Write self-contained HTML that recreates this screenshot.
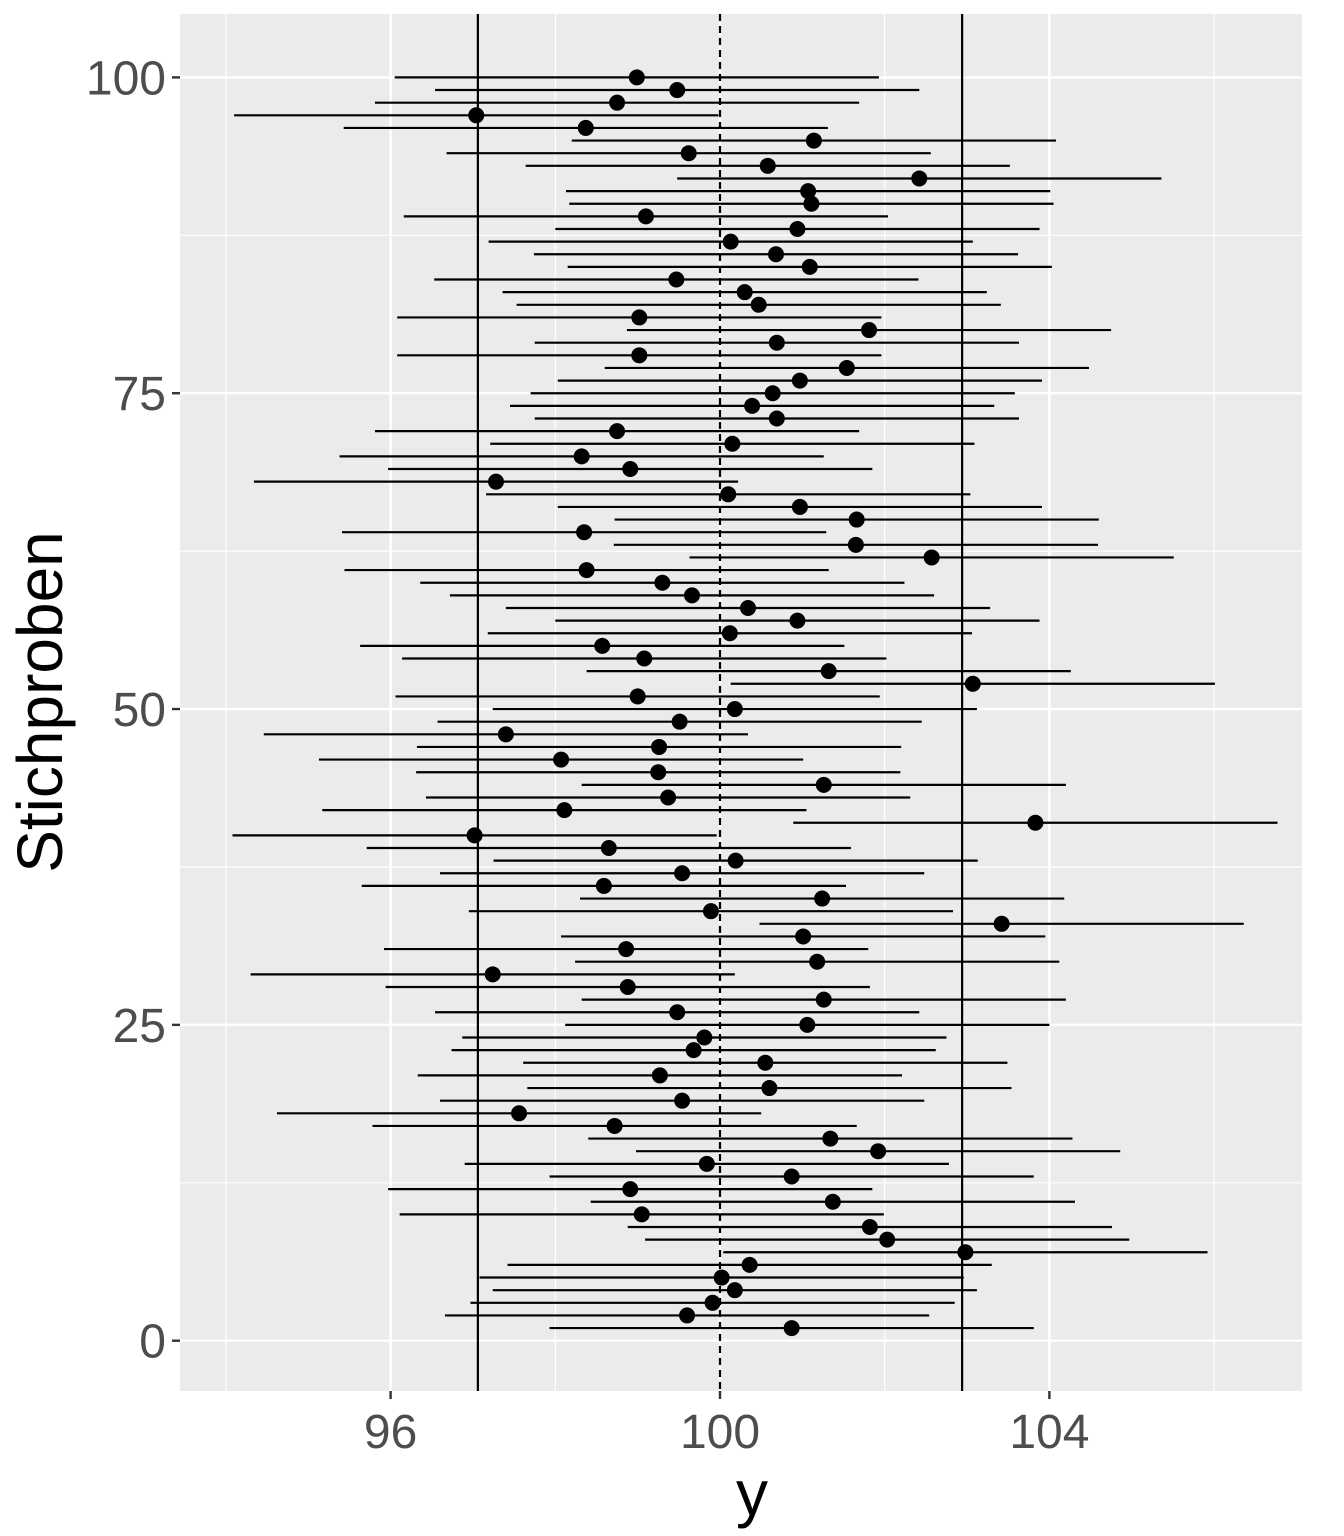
<!DOCTYPE html>
<html><head><meta charset="utf-8"><style>
html,body{margin:0;padding:0;background:#fff;}
svg{display:block;font-family:"Liberation Sans",Arial,sans-serif;}
</style></head><body>
<svg id="chart" width="1344" height="1536">
<rect x="180" y="14" width="1122" height="1377" fill="#EBEBEB"/>
<g id="grid"></g>
<g id="refs"></g>
<g id="marks"></g>
<g id="axes"></g>
<text x="752" y="1515" font-size="64" text-anchor="middle" fill="#000">y</text>
<text transform="translate(62,702) rotate(-90)" font-size="64" text-anchor="middle" fill="#000">Stichproben</text>
</svg>
<script>
const sampleMeans = [100.87,99.60,99.91,100.18,100.02,100.36,102.98,102.03,101.82,99.05,
101.37,98.91,100.87,99.84,101.92,101.34,98.72,97.56,99.54,100.60,
99.27,100.55,99.68,99.81,101.06,99.48,101.26,98.88,97.24,101.18,
98.86,101.01,103.42,99.89,101.24,98.59,99.54,100.19,98.65,97.02,
103.83,98.11,99.37,101.26,99.25,98.07,99.26,97.40,99.51,100.18,
99.00,103.07,101.32,99.08,98.57,100.12,100.94,100.34,99.66,99.30,
98.38,102.57,101.65,98.35,101.66,100.97,100.10,97.28,98.91,98.32,
100.15,98.75,100.69,100.39,100.64,100.97,101.54,99.02,100.69,101.81,
99.02,100.47,100.30,99.47,101.09,100.68,100.13,100.94,99.10,101.11,
101.07,102.42,100.58,99.62,101.14,98.37,97.04,98.75,99.48,98.99];
const halfWidth = 2.94;
const trueMean = 100;
const xTicks = [96,100,104];
const xMinor = [94,98,102,106];
const yTicks = [0,25,50,75,100];
const yMinor = [12.5,37.5,62.5,87.5];

const NS="http://www.w3.org/2000/svg";
const L=180,R=1302,T=14,B=1391;
function sx(v){return 720+(v-100)*82.35;}
function sy(v){return 1340.7-v*12.633;}
function mk(parent,tag,attrs){const e=document.createElementNS(NS,tag);for(const k in attrs)e.setAttribute(k,attrs[k]);document.getElementById(parent).appendChild(e);return e;}

xMinor.forEach(v=>{const e=mk('grid','line',{x1:sx(v),x2:sx(v),y1:T,y2:B,stroke:'#fff','stroke-width':1.2});

});
yMinor.forEach(v=>{const e=mk('grid','line',{x1:L,x2:R,y1:sy(v),y2:sy(v),stroke:'#fff','stroke-width':1.2});

});
xTicks.forEach(v=>{const e=mk('grid','line',{x1:sx(v),x2:sx(v),y1:T,y2:B,stroke:'#fff','stroke-width':2.4});


const t=mk('axes','line',{x1:sx(v),x2:sx(v),y1:B,y2:B+8,stroke:'#333','stroke-width':2.4});


const l=mk('axes','text',{x:sx(v),y:1448,'font-size':48,'text-anchor':'middle',fill:'#4D4D4D'});l.textContent=v;

});
yTicks.forEach(v=>{const e=mk('grid','line',{x1:L,x2:R,y1:sy(v),y2:sy(v),stroke:'#fff','stroke-width':2.4});


const t=mk('axes','line',{x1:L-8,x2:L,y1:sy(v),y2:sy(v),stroke:'#333','stroke-width':2.4});


const l=mk('axes','text',{x:166,y:sy(v)+17,'font-size':48,'text-anchor':'end',fill:'#4D4D4D'});l.textContent=v;

});

[trueMean-halfWidth,trueMean+halfWidth].forEach(v=>{const e=mk('refs','line',{x1:sx(v),x2:sx(v),y1:T,y2:B,stroke:'#000','stroke-width':2.2});

});
const d=mk('refs','line',{x1:sx(trueMean),x2:sx(trueMean),y1:T,y2:B,stroke:'#000','stroke-width':2.2,'stroke-dasharray':'7,5'});



sampleMeans.forEach((m,i)=>{const y=sy(i+1);
const e=mk('marks','line',{x1:sx(m-halfWidth),x2:sx(m+halfWidth),y1:y,y2:y,stroke:'#000','stroke-width':2.2});


const c=mk('marks','circle',{cx:sx(m),cy:y,r:8,fill:'#000'});

});
</script>
</body></html>
